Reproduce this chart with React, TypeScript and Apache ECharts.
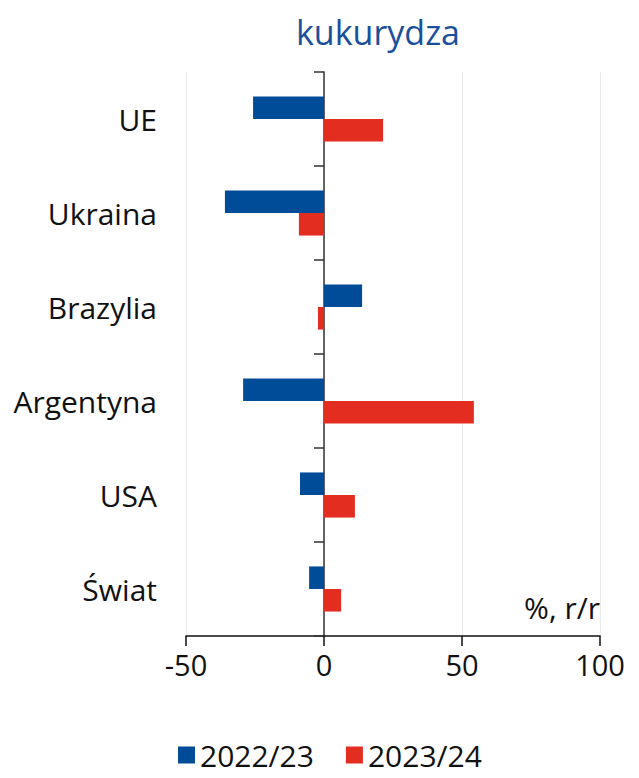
import React, { useEffect, useRef } from "react";
import * as echarts from "echarts";

const categories = ["UE", "Ukraina", "Brazylia", "Argentyna", "USA", "Świat"];
const series2223 = [-25.7, -35.9, 13.8, -29.3, -8.7, -5.4];
const series2324 = [21.4, -9.1, -2.2, 54.3, 11.2, 6.2];
const seriesNames = ["2022/23", "2023/24"];
const xTicks = { min: -50, max: 100, interval: 50 };

const FONT = "'Open Sans', 'DejaVu Sans', sans-serif";

export default function App() {
  const ref = useRef<HTMLDivElement>(null);
  useEffect(() => {
    if (!ref.current) return;
    const chart = echarts.init(ref.current, null, { renderer: "svg" });
    chart.setOption({
      animation: false,
      legend: {
        top: 727,
        left: 165,
        itemWidth: 17,
        itemHeight: 17,
        itemGap: 32,
        icon: "rect",
        textStyle: { fontSize: 30, lineHeight: 30, color: "#111", fontFamily: FONT },
        data: seriesNames,
      },
      graphic: [
        {
          type: "text",
          left: 288,
          top: 7,
          style: { text: "kukurydza", fontSize: 34, fill: "#1a4f9c", fontFamily: FONT },
        },
        {
          type: "text",
          right: 31,
          top: 584,
          style: { text: "%, r/r", fontSize: 30, fill: "#111", fontFamily: FONT },
        },
      ],
      grid: { left: 178, right: 31, top: 64, bottom: 142, containLabel: false },
      xAxis: {
        type: "value",
        min: xTicks.min,
        max: xTicks.max,
        interval: xTicks.interval,
        axisLine: { show: true, onZero: false, lineStyle: { color: "#111", width: 1.5 } },
        axisTick: { show: true, length: 10, lineStyle: { color: "#111", width: 1.5 } },
        axisLabel: { fontSize: 29, color: "#111", margin: 14, fontFamily: FONT },
        splitLine: { show: true, lineStyle: { color: "#ececec" } },
      },
      yAxis: [
        {
          type: "category",
          data: categories,
          inverse: true,
          position: "left",
          axisLine: { show: false, onZero: false },
          axisTick: { show: false },
          axisLabel: { fontSize: 30, color: "#111", margin: 29, fontFamily: FONT },
        },
        {
          type: "category",
          data: categories,
          inverse: true,
          position: "left",
          axisLine: { show: true, onZero: true, lineStyle: { color: "#333", width: 1.5 } },
          axisTick: { show: true, length: 10, lineStyle: { color: "#333", width: 1.5 } },
          axisLabel: { show: false },
        },
      ],
      series: [
        {
          name: seriesNames[0],
          type: "bar",
          data: series2223,
          itemStyle: { color: "#004c99" },
          barGap: "0%",
          barCategoryGap: "52%",
        },
        {
          name: seriesNames[1],
          type: "bar",
          data: series2324,
          itemStyle: { color: "#e32d20" },
          barGap: "0%",
          barCategoryGap: "52%",
        },
      ],
    });
    return () => chart.dispose();
  }, []);
  return <div ref={ref} style={{ width: 623, height: 770 }} />;
}
